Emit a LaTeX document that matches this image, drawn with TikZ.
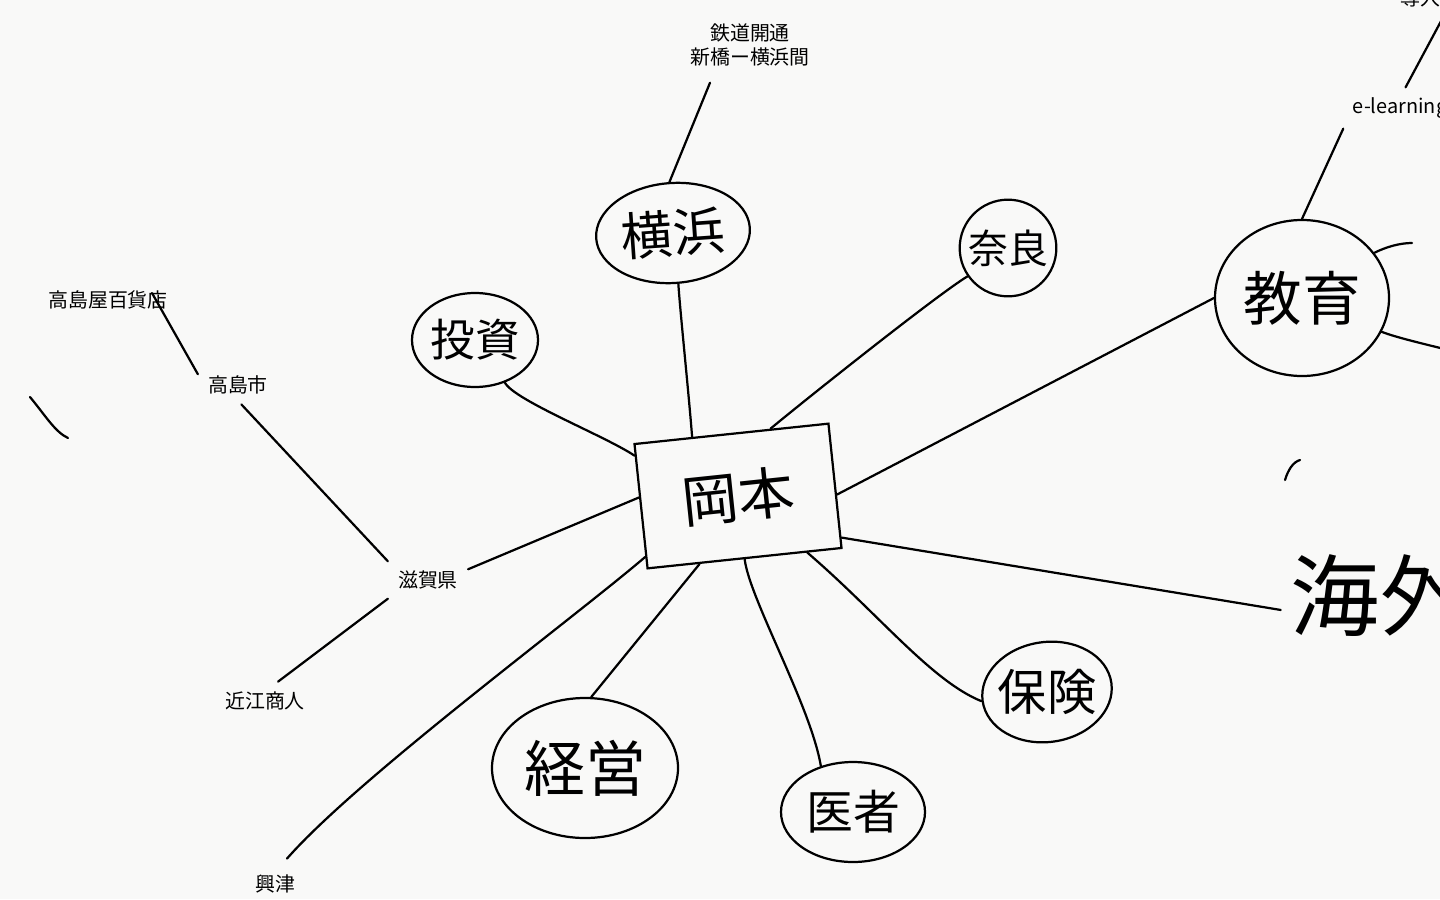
\documentclass[tikz,border=0pt]{standalone}
\usepackage{fontspec}
\newfontfamily\jp{Noto Sans CJK JP}
\usetikzlibrary{shapes.geometric, calc, positioning}
\definecolor{paper}{RGB}{249,249,248}

\begin{document}
\begin{tikzpicture}[
    x=0.03cm, y=-0.03cm,
    font=\jp,
    memo/.style={font=\jp\fontsize{17}{21}\selectfont, inner sep=0.3cm, align=center},
    blob/.style={draw, ellipse, inner sep=0pt, line width=1.9pt},
    hand/.style={font=\jp\fontsize{#1}{#1}\selectfont},
    link/.style={line width=1.9pt, line cap=round}
]
  \useasboundingbox (0,0) rectangle (1440,899);
  \clip (0,0) rectangle (1440,899);
  \fill[paper] (0,0) rectangle (1440,899);

  \node[draw, line width=1.9pt, minimum width=5.85cm, minimum height=3.75cm, rotate=6, hand=48] (okamoto) at (738,496) {岡本};

  \node[blob, minimum width=4.62cm, minimum height=3.0cm, rotate=4, label={[hand=44, rotate=4]center:横浜}] (yokohama) at (673,233) {};
  \node[blob, minimum width=3.78cm, minimum height=2.82cm, label={[hand=38]center:投資}] (toushi) at (475,340) {};
  \node[blob, minimum width=2.9cm, minimum height=2.9cm, label={[hand=34]center:奈良}] (nara) at (1008,248) {};
  \node[blob, minimum width=5.22cm, minimum height=4.68cm, label={[hand=50]center:教育}] (kyouiku) at (1302,298) {};
  \node[blob, minimum width=3.9cm, minimum height=3.0cm, rotate=8, label={[hand=42]center:保険}] (hoken) at (1047,692) {};
  \node[blob, minimum width=4.32cm, minimum height=3.0cm, label={[hand=40]center:医者}] (isha) at (853,812) {};
  \node[blob, minimum width=5.58cm, minimum height=4.2cm, label={[hand=52]center:経営}] (keiei) at (585,768) {};
  \node[hand=76, inner sep=0.3cm] (kaigai) at (1380,596) {海外};

  \node[memo] (tetsudo) at (750,45) {鉄道開通\\新橋ー横浜間};
  \node[memo] (takashimaya) at (108,300) {高島屋百貨店};
  \node[memo] (takashima) at (238,385) {高島市};
  \node[memo] (shiga) at (428,580) {滋賀県};
  \node[memo] (oumi) at (265,701) {近江商人};
  \node[memo] (okitsu) at (275,884) {興津};
  \node[memo] (elearn) at (1400,108) {e-learning};
  \node[memo] (dounyu) at (1420,-2) {導入};

  \coordinate (offtop) at (1455,-5);
  \coordinate (stubA) at (1412,243);
  \coordinate (stubB) at (1448,350);

  \draw[link] (yokohama.north) -- ($(tetsudo.south)+(-40,6)$);
  \draw[link] (yokohama.-88) .. controls +(2,30) and +(-4,-50) .. ($(okamoto.north west)!0.3!(okamoto.north east)$);
  \draw[link] (toushi.-55) .. controls +(10,18) and +(-30,-20) .. ($(okamoto.north west)!0.1!(okamoto.south west)$);
  \draw[link] (nara.215) .. controls +(-30,18) and +(30,-25) .. ($(okamoto.north west)!0.7!(okamoto.north east)$);
  \draw[link] (kyouiku.west) -- ($(okamoto.north east)!0.57!(okamoto.south east)$);
  \draw[link] (kyouiku.north) -- (elearn.200);
  \draw[link] (elearn.75) -- (offtop);
  \draw[link] (kyouiku.32) .. controls +(12,-6) and +(-12,0) .. (stubA);
  \draw[link] (kyouiku.-23) .. controls +(15,6) and +(-15,-4) .. (stubB);
  \draw[link] ($(okamoto.north east)!0.91!(okamoto.south east)$) -- (kaigai.188);
  \draw[link] ($(okamoto.south west)!0.82!(okamoto.south east)$) .. controls +(70,60) and +(-50,-20) .. (hoken.west);
  \draw[link] (isha.125) .. controls +(-10,-60) and +(5,40) .. ($(okamoto.south west)!0.5!(okamoto.south east)$);
  \draw[link] (keiei.85) -- ($(okamoto.south west)!0.27!(okamoto.south east)$);
  \draw[link] ($(okitsu.north)+(12,-6)$) .. controls +(70,-80) and +(-70,60) .. ($(okamoto.south west)!0.1!(okamoto.north west)$);
  \draw[link] (shiga.15) -- ($(okamoto.north west)!0.43!(okamoto.south west)$);
  \draw[link] (shiga.155) -- (takashima.-80);
  \draw[link] (shiga.205) -- (oumi.56);
  \draw[link] (takashima.165) -- ($(takashimaya.east)+(-26,-7)$);

  \draw[link] (30,397) .. controls (45,415) and (55,432) .. (68,438);
  \draw[link] (1285,480) .. controls (1288,470) and (1293,462) .. (1300,460);
\end{tikzpicture}
\end{document}
